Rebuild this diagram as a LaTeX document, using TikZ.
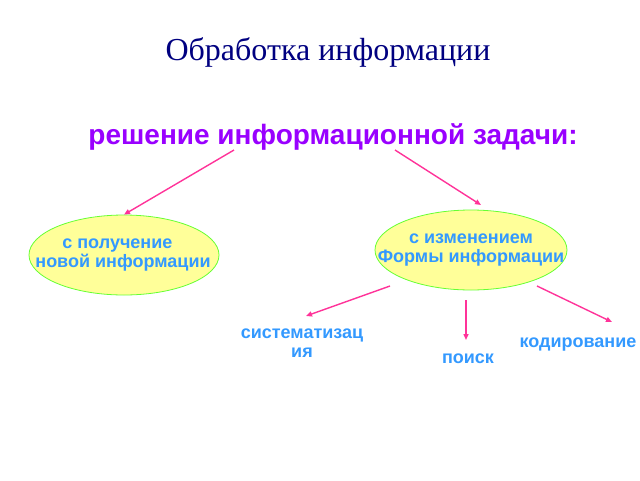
\documentclass[tikz,border=0pt]{standalone}
\usepackage{fontspec}
\setmainfont{Liberation Serif}
\newfontfamily\sansb{Liberation Sans}
\usetikzlibrary{shapes.geometric,arrows.meta}
\definecolor{ttl}{HTML}{000080}
\definecolor{sub}{HTML}{9900FF}
\definecolor{lbl}{HTML}{3399FF}
\definecolor{arr}{HTML}{FF3399}
\definecolor{elf}{HTML}{FFFF99}
\definecolor{eld}{HTML}{66FF33}
\begin{document}
\begin{tikzpicture}[x=1pt,y=-1pt,
  el/.style={ellipse,draw=eld,fill=elf,line width=0.8pt,minimum width=190pt,minimum height=80pt,inner sep=0pt},
  lb/.style={text=lbl,font=\sansb\bfseries\fontsize{18}{19}\selectfont,align=center,inner sep=0pt},
  ar/.style={draw=arr,line width=1.4pt,-{Triangle[length=6pt,width=5pt]}}]
\useasboundingbox (0,0) rectangle (640,480);
\node[text=ttl,font=\fontsize{32}{36}\selectfont] (t) at (328,52) {Обработка информации};
\node[text=sub,font=\sansb\bfseries\fontsize{28}{32}\selectfont] (s) at (333,137) {решение информационной задачи:};
\node[el] (l) at (124,255) {};
\node[lb,align=left] at (123,255) {\hspace*{27pt}с получение\\новой информации};
\node[el,minimum width=192pt] (r) at (471,250) {};
\node[lb] at (471,250) {с изменением\\Формы информации};
\coordinate (s1) at (234,150); \coordinate (s2) at (395,150);
\node[lb] (a) at (302,343) {систематизац\\ия};
\node[lb] (b) at (468,359) {поиск};
\node[lb] (c) at (578,345) {кодирование};
\coordinate (r1) at (390,286); \coordinate (r2) at (466,300); \coordinate (r3) at (537,286);
\draw[ar] (s1) -- (l.north);
\draw[ar] (s2) -- (481,205);
\draw[ar] (r1) -- (306,316);
\draw[ar] (r2) -- (466,340);
\draw[ar] (r3) -- (612,322);
\end{tikzpicture}
\end{document}
